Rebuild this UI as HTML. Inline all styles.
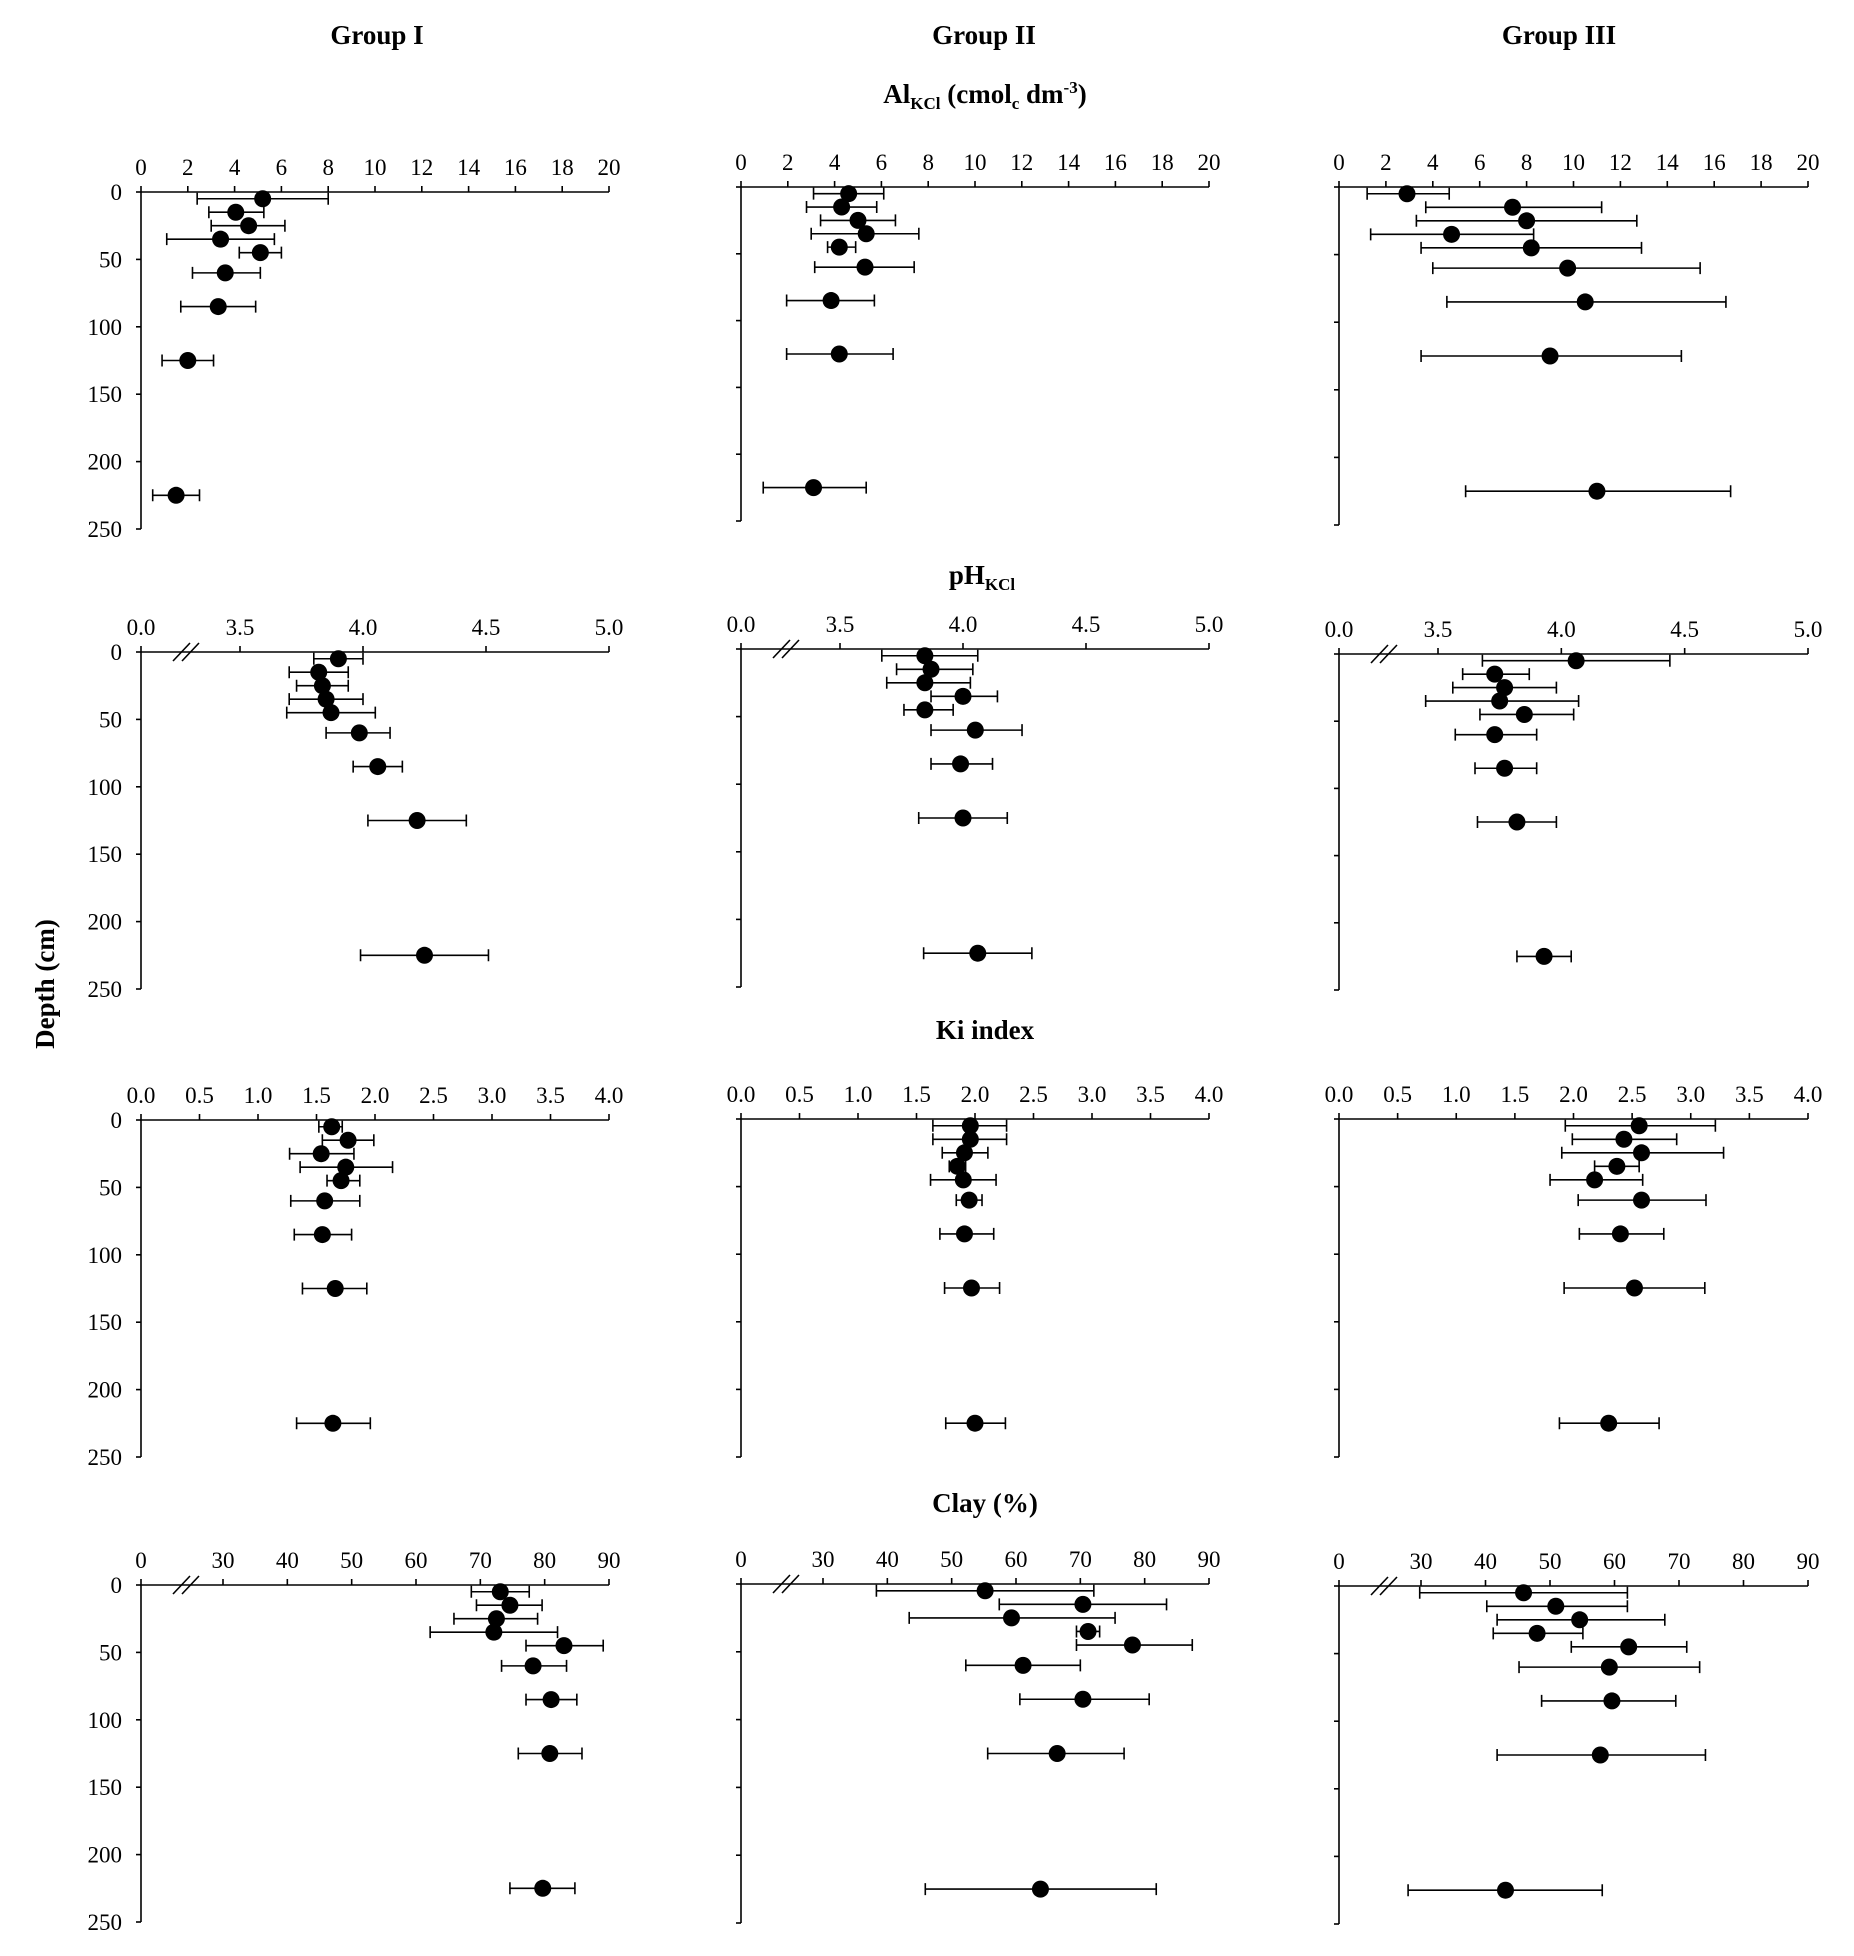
<!DOCTYPE html>
<html><head><meta charset="utf-8"><style>
html,body{margin:0;padding:0;background:#fff;}
svg{display:block;font-family:"Liberation Serif",serif;}
</style></head><body>
<svg id="fig" width="1854" height="1956" viewBox="0 0 1854 1956" xmlns="http://www.w3.org/2000/svg">
<g font-weight="bold" font-size="27" text-anchor="middle" fill="#000">
<text x="377" y="44">Group I</text>
<text x="984" y="44">Group II</text>
<text x="1559" y="44">Group III</text>
<text x="985" y="103">Al<tspan font-size="17" dy="6">KCl</tspan><tspan dy="-6"> (cmol</tspan><tspan font-size="17" dy="6">c</tspan><tspan dy="-6"> dm</tspan><tspan font-size="17" dy="-10">-3</tspan><tspan dy="10">)</tspan></text>
<text x="982" y="584">pH<tspan font-size="17" dy="6">KCl</tspan></text>
<text x="985" y="1039">Ki index</text>
<text x="985" y="1512">Clay (%)</text>
<text x="0" y="0" transform="translate(54,984) rotate(-90)">Depth (cm)</text>
</g>
<g id="panels"></g>
</svg>
<script>
const depths = [5, 15, 25, 35, 45, 60, 85, 125, 225];
const depthTicks = [0, 50, 100, 150, 200, 250];

const alG1Mean = [5.2, 4.05, 4.6, 3.4, 5.1, 3.6, 3.3, 2.0, 1.5];
const alG1Low  = [2.4, 2.9, 3.0, 1.1, 4.2, 2.2, 1.7, 0.9, 0.5];
const alG1High = [8.0, 5.25, 6.15, 5.7, 6.0, 5.1, 4.9, 3.1, 2.5];
const alG2Mean = [4.6, 4.3, 5.0, 5.35, 4.2, 5.3, 3.85, 4.2, 3.1];
const alG2Low  = [3.1, 2.8, 3.4, 3.0, 3.7, 3.15, 1.95, 1.95, 0.95];
const alG2High = [6.1, 5.8, 6.6, 7.6, 4.9, 7.4, 5.7, 6.5, 5.35];
const alG3Mean = [2.9, 7.4, 8.0, 4.8, 8.2, 9.75, 10.5, 9.0, 11.0];
const alG3Low  = [1.2, 3.7, 3.3, 1.35, 3.5, 4.0, 4.6, 3.5, 5.4];
const alG3High = [4.7, 11.2, 12.7, 8.3, 12.9, 15.4, 16.5, 14.6, 16.7];
const alTicks = [0, 2, 4, 6, 8, 10, 12, 14, 16, 18, 20];

const phG1Mean = [3.9, 3.82, 3.835, 3.85, 3.87, 3.985, 4.06, 4.22, 4.25];
const phG1Low  = [3.8, 3.7, 3.73, 3.7, 3.69, 3.85, 3.96, 4.02, 3.99];
const phG1High = [4.0, 3.94, 3.94, 4.0, 4.05, 4.11, 4.16, 4.42, 4.51];
const phG2Mean = [3.845, 3.87, 3.845, 4.0, 3.845, 4.05, 3.99, 4.0, 4.06];
const phG2Low  = [3.67, 3.73, 3.69, 3.87, 3.76, 3.87, 3.87, 3.82, 3.84];
const phG2High = [4.06, 4.04, 4.03, 4.14, 3.96, 4.24, 4.12, 4.18, 4.28];
const phG3Mean = [4.06, 3.73, 3.77, 3.75, 3.85, 3.73, 3.77, 3.82, 3.93];
const phG3Low  = [3.68, 3.6, 3.56, 3.45, 3.67, 3.57, 3.65, 3.66, 3.82];
const phG3High = [4.44, 3.87, 3.98, 4.07, 4.05, 3.9, 3.9, 3.98, 4.04];
const phTicks = [3.5, 4.0, 4.5, 5.0];

const kiG1Mean = [1.63, 1.77, 1.54, 1.75, 1.71, 1.57, 1.55, 1.66, 1.64];
const kiG1Low  = [1.52, 1.55, 1.27, 1.36, 1.59, 1.28, 1.31, 1.38, 1.33];
const kiG1High = [1.72, 1.99, 1.82, 2.15, 1.87, 1.87, 1.8, 1.93, 1.96];
const kiG2Mean = [1.96, 1.96, 1.91, 1.85, 1.9, 1.95, 1.91, 1.97, 2.0];
const kiG2Low  = [1.64, 1.64, 1.72, 1.78, 1.62, 1.84, 1.7, 1.74, 1.75];
const kiG2High = [2.27, 2.27, 2.11, 1.92, 2.18, 2.06, 2.16, 2.21, 2.26];
const kiG3Mean = [2.56, 2.43, 2.58, 2.37, 2.18, 2.58, 2.4, 2.52, 2.3];
const kiG3Low  = [1.93, 1.99, 1.9, 2.18, 1.8, 2.04, 2.05, 1.92, 1.88];
const kiG3High = [3.21, 2.88, 3.28, 2.56, 2.59, 3.13, 2.77, 3.12, 2.73];
const kiTicks = [0, 0.5, 1, 1.5, 2, 2.5, 3, 3.5, 4];

const clayG1Mean = [73.1, 74.6, 72.5, 72.1, 83.0, 78.2, 81.0, 80.8, 79.7];
const clayG1Low  = [68.6, 69.4, 65.9, 62.2, 77.1, 73.3, 77.1, 75.9, 74.6];
const clayG1High = [77.6, 79.6, 78.9, 82.0, 89.1, 83.4, 85.0, 85.8, 84.7];
const clayG2Mean = [55.2, 70.4, 59.3, 71.2, 78.1, 61.1, 70.4, 66.4, 63.8];
const clayG2Low  = [38.3, 57.4, 43.4, 69.4, 69.4, 52.2, 60.6, 55.6, 45.9];
const clayG2High = [72.1, 83.4, 75.4, 73.0, 87.4, 70.0, 80.7, 76.8, 81.8];
const clayG3Mean = [45.9, 50.9, 54.6, 48.0, 62.2, 59.2, 59.6, 57.8, 43.1];
const clayG3Low  = [29.8, 40.2, 41.8, 41.2, 53.3, 45.2, 48.7, 41.8, 28.0];
const clayG3High = [62.0, 62.0, 67.8, 55.1, 71.2, 73.2, 69.5, 74.1, 58.1];
const clayTicks = [30, 40, 50, 60, 70, 80, 90];

const NS = "http://www.w3.org/2000/svg";
const root = document.getElementById('panels');
function mk(tag, attrs, parent) {
  const e = document.createElementNS(NS, tag);
  for (const k in attrs) e.setAttribute(k, attrs[k]);
  parent.appendChild(e);
  return e;
}
const cols = [[141, 609], [741, 1209], [1339, 1808]];
const rows = [
  [[192, 529], [187, 521], [187, 525]],
  [[652, 989], [649, 987], [654, 990]],
  [[1120, 1457], [1119, 1457], [1119, 1457]],
  [[1585, 1922], [1584, 1923], [1586, 1924]]
];
const vars = [
  {name: 'al', ticks: alTicks, lin: [0, 20], dec: 0,
   data: [[alG1Mean, alG1Low, alG1High], [alG2Mean, alG2Low, alG2High], [alG3Mean, alG3Low, alG3High]]},
  {name: 'ph', ticks: phTicks, brk: [3.5, 5.0, 99], dec: 1,
   data: [[phG1Mean, phG1Low, phG1High], [phG2Mean, phG2Low, phG2High], [phG3Mean, phG3Low, phG3High]]},
  {name: 'ki', ticks: kiTicks, lin: [0, 4], dec: 1,
   data: [[kiG1Mean, kiG1Low, kiG1High], [kiG2Mean, kiG2Low, kiG2High], [kiG3Mean, kiG3Low, kiG3High]]},
  {name: 'clay', ticks: clayTicks, brk: [30, 90, 82], dec: 0,
   data: [[clayG1Mean, clayG1Low, clayG1High], [clayG2Mean, clayG2Low, clayG2High], [clayG3Mean, clayG3Low, clayG3High]]}
];
vars.forEach((v, r) => {
  for (let c = 0; c < 3; c++) {
    const x0 = cols[c][0], x1 = cols[c][1];
    const y0 = rows[r][c][0], y1 = rows[r][c][1];
    let xs;
    if (v.lin) xs = val => x0 + (val - v.lin[0]) / (v.lin[1] - v.lin[0]) * (x1 - x0);
    else xs = val => x0 + v.brk[2] + (val - v.brk[0]) / (v.brk[1] - v.brk[0]) * (x1 - x0 - v.brk[2]);
    const ys = d => y0 + d / 250 * (y1 - y0);
    const g = mk('g', {}, root);
    
    
    const st = {stroke: '#000', 'stroke-width': 1.6, fill: 'none'};
    const xa = mk('line', Object.assign({x1: x0, y1: y0, x2: x1, y2: y0}, st), g);
    
    
    const ya = mk('line', Object.assign({x1: x0, y1: y0, x2: x0, y2: y1}, st), g);
    
    
    const labs = v.lin ? v.ticks.map(t => [t, xs(t)]) : [[0, x0]].concat(v.ticks.map(t => [t, xs(t)]));
    labs.forEach(([t, px]) => {
      mk('line', Object.assign({x1: px, y1: y0, x2: px, y2: y0 - 6}, st), g);
      const tx = mk('text', {x: px, y: y0 - 17, 'text-anchor': 'middle', 'font-size': 23, fill: '#000'}, g);
      tx.textContent = t.toFixed(v.dec);
      
      
    });
    if (v.brk) {
      mk('line', Object.assign({x1: x0 + 32, y1: y0 + 9, x2: x0 + 49, y2: y0 - 9}, st), g);
      mk('line', Object.assign({x1: x0 + 41, y1: y0 + 9, x2: x0 + 58, y2: y0 - 9}, st), g);
    }
    depthTicks.forEach(d => {
      const py = ys(d);
      mk('line', Object.assign({x1: x0 - 5, y1: py, x2: x0, y2: py}, st), g);
      if (c === 0) {
        const tx = mk('text', {x: x0 - 19, y: py + 8, 'text-anchor': 'end', 'font-size': 23, fill: '#000'}, g);
        tx.textContent = d;
        
        
      }
    });
    const [mean, low, high] = v.data[c];
    depths.forEach((d, i) => {
      const py = ys(d);
      const a = xs(low[i]), b = xs(high[i]);
      const eb = mk('path', {d: `M${a},${py}H${b}M${a},${py - 6}V${py + 6}M${b},${py - 6}V${py + 6}`, stroke: '#000', 'stroke-width': 1.6, fill: 'none'}, g);
      
      
      const pt = mk('circle', {cx: xs(mean[i]), cy: py, r: 8.5, fill: '#000'}, g);
      
      
    });
  }
});
</script>
</body></html>
